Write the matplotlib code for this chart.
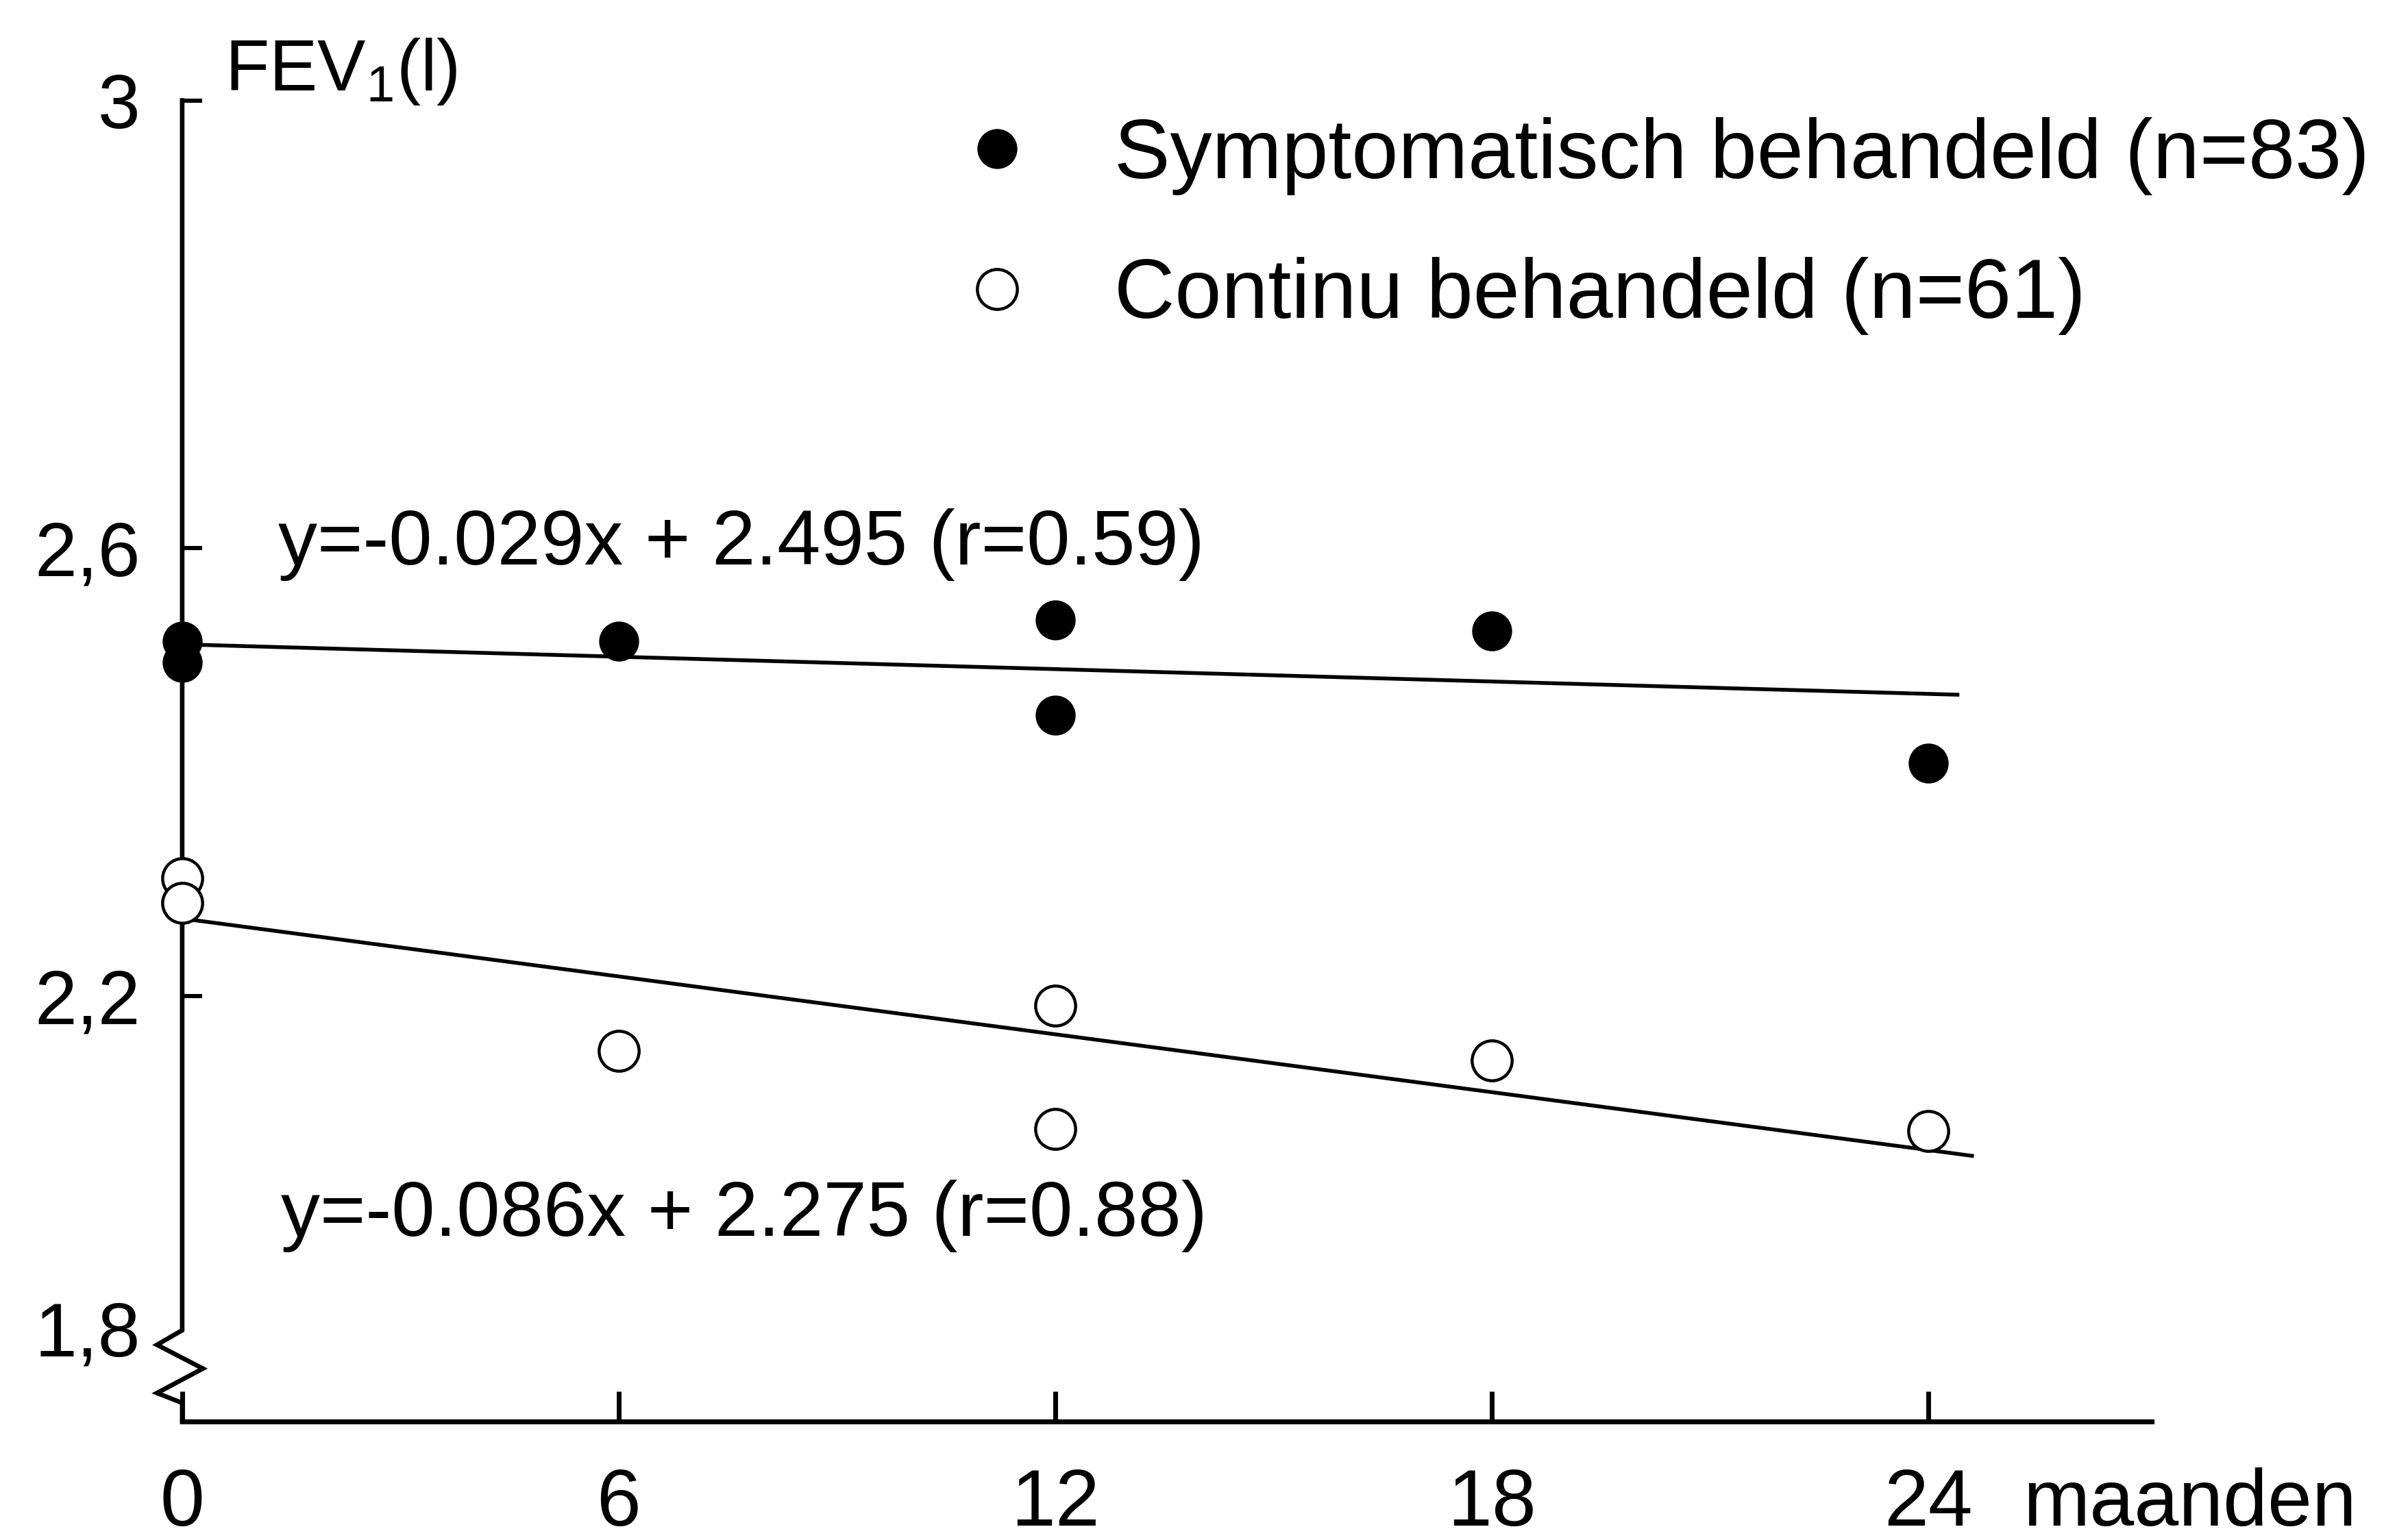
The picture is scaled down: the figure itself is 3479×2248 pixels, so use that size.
import matplotlib
matplotlib.use("Agg")
import matplotlib.pyplot as plt

plt.rcParams['font.family'] = ['Liberation Sans', 'DejaVu Sans']
plt.rcParams['mathtext.default'] = 'regular'

# months since start
months = [0, 0, 6, 12, 12, 18, 24]
# FEV1 (l), symptomatic treatment (filled dots)
fev_symptomatisch = [2.517, 2.498, 2.517, 2.536, 2.451, 2.526, 2.408]
# FEV1 (l), continuous treatment (open dots)
fev_continu = [2.305, 2.283, 2.151, 2.191, 2.081, 2.142, 2.079]

# regression lines as drawn in the figure (end points)
trend_x_sym = [0, 24.4]
trend_y_sym = [2.514, 2.469]
trend_x_con = [0, 24.6]
trend_y_con = [2.269, 2.057]

eq_sym = 'y=-0.029x + 2.495 (r=0.59)'
eq_con = 'y=-0.086x + 2.275 (r=0.88)'
label_sym = 'Symptomatisch behandeld (n=83)'
label_con = 'Continu behandeld (n=61)'

xticks = [0, 6, 12, 18, 24]
yticks = [2.2, 2.6, 3.0]
ytick_labels = ['2,2', '2,6', '3']

fig = plt.figure(figsize=(17.4, 11.24), dpi=200)
ax = fig.add_axes([0.0764, 0.0770, 0.8259, 0.8578])

ax.plot(trend_x_sym, trend_y_sym, color='black', lw=2.0)
ax.plot(trend_x_con, trend_y_con, color='black', lw=2.0)

ax.plot(months, fev_symptomatisch, 'o', color='black', ms=20,
        label=label_sym, clip_on=False, zorder=5)
ax.plot(months, fev_continu, 'o', mfc='white', mec='black', mew=1.6, ms=21,
        label=label_con, clip_on=False, zorder=5)

ax.text(1.32, 2.603, eq_sym, fontsize=41, va='center', ha='left')
ax.text(1.36, 2.003, eq_con, fontsize=41, va='center', ha='left')

ax.set_xlim(0, 27.07)
ax.set_ylim(1.8197, 3.0)

ax.set_xticks(xticks)
ax.set_xticklabels([str(t) for t in xticks])
ax.set_yticks(yticks)
ax.set_yticklabels(ytick_labels)
# broken axis label
ax.set_yticks([1.9026], minor=True)
ax.set_yticklabels(['1,8'], minor=True)

ax.tick_params(axis='y', which='major', direction='in', length=10.5, width=2.2,
               pad=22, labelsize=40)
ax.tick_params(axis='y', which='minor', length=0, pad=22, labelsize=40)
ax.tick_params(axis='x', direction='in', length=16, width=2.5, pad=24,
               labelsize=42)

for s in ['top', 'right', 'left']:
    ax.spines[s].set_visible(False)
ax.spines['bottom'].set_linewidth(2.6)

# y axis with zigzag break
zx = [0, 0, -0.0128, 0.0105, -0.0128, 0, 0]
zy = [1, 0.0690, 0.0580, 0.0400, 0.0215, 0.014, 0]
ax.plot(zx, zy, color='black', lw=2.4, transform=ax.transAxes, clip_on=False,
        solid_joinstyle='miter')

ax.annotate('maanden', xy=(25.3, 0), xycoords=('data', 'axes fraction'),
            xytext=(0, -24), textcoords='offset points', fontsize=42,
            ha='left', va='top')

fig.text(0.0943, 0.9412, r'FEV$_1$(l)', fontsize=38, va='baseline', ha='left')

ax.legend(loc='upper left', bbox_to_anchor=(0.404, 0.924),
          bbox_transform=fig.transFigure, frameon=False, fontsize=44,
          handlelength=0.8, handletextpad=1.0, borderpad=0, borderaxespad=0,
          labelspacing=0.74, numpoints=1)

fig.savefig('out.png', dpi=200)
